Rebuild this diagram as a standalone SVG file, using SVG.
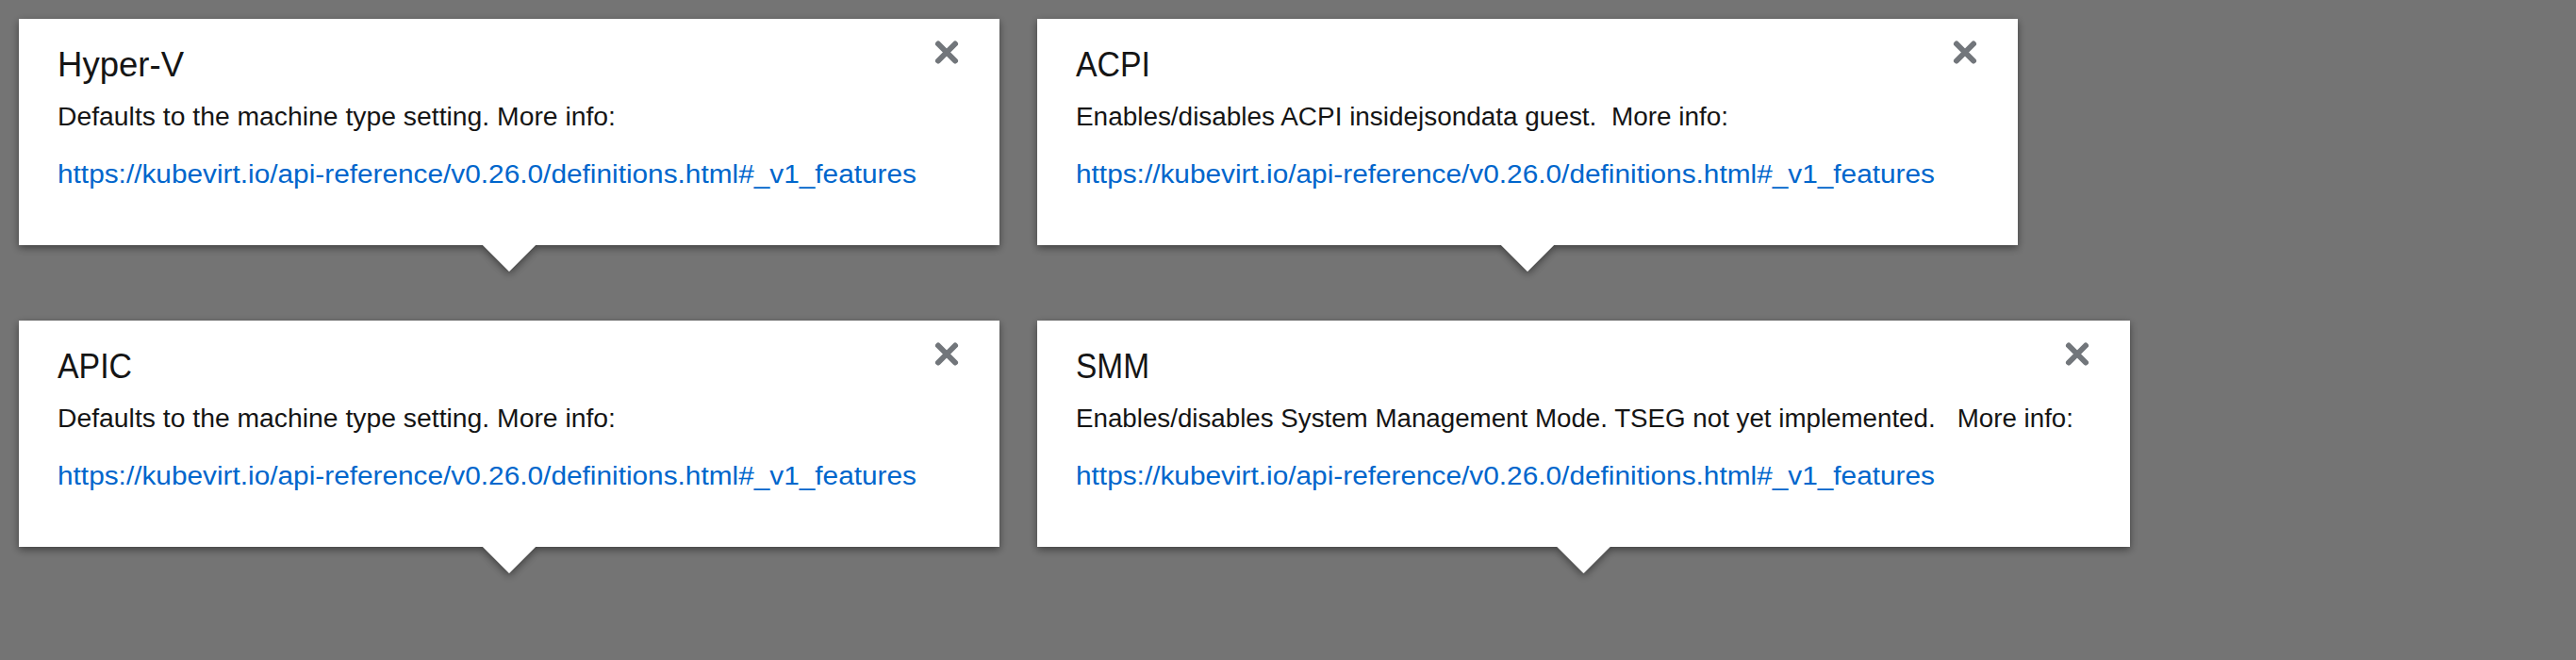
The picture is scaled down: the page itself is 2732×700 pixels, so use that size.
<svg xmlns="http://www.w3.org/2000/svg" width="2732" height="700" viewBox="0 0 2732 700">
  <defs>
    <filter id="shadow" x="-5%" y="-10%" width="110%" height="130%">
      <feDropShadow dx="0" dy="3" stdDeviation="4" flood-color="#000" flood-opacity="0.45"/>
    </filter>
    <style>
      .box { fill: #ffffff; filter: url(#shadow); }
      .title { font-family: "Liberation Sans", "Noto Sans", Arial, sans-serif; font-size: 36px; fill: #151515; }
      .desc { font-family: "Liberation Sans", "Noto Sans", Arial, sans-serif; font-size: 27px; fill: #151515; white-space: pre; }
      .link { font-family: "Liberation Sans", "Noto Sans", Arial, sans-serif; font-size: 27px; fill: #0066cc; }
      .close { stroke: #72767b; stroke-width: 6; stroke-linecap: round; fill: none; }
    </style>
  </defs>
  <rect x="0" y="0" width="2732" height="700" fill="#747474"/>

  <g id="popover-hyperv">
    <path class="box" d="M20,20 H1060 V260 H568 L540,288 L512,260 H20 Z"/>
    <text class="title" x="61" y="81" textLength="134" lengthAdjust="spacingAndGlyphs">Hyper-V</text>
    <text class="desc" x="61" y="133" textLength="592" lengthAdjust="spacingAndGlyphs">Defaults to the machine type setting. More info:</text>
    <text class="link" x="61" y="194" textLength="911" lengthAdjust="spacingAndGlyphs">https://kubevirt.io/api-reference/v0.26.0/definitions.html#_v1_features</text>
    <path class="close" d="M995,46.5 L1013,64.5 M1013,46.5 L995,64.5"/>
  </g>

  <g id="popover-acpi">
    <path class="box" d="M1100,20 H2140 V260 H1648 L1620,288 L1592,260 H1100 Z"/>
    <text class="title" x="1141" y="81" textLength="79" lengthAdjust="spacingAndGlyphs">ACPI</text>
    <text class="desc" x="1141" y="133" textLength="692" lengthAdjust="spacingAndGlyphs" xml:space="preserve">Enables/disables ACPI insidejsondata guest.  More info:</text>
    <text class="link" x="1141" y="194" textLength="911" lengthAdjust="spacingAndGlyphs">https://kubevirt.io/api-reference/v0.26.0/definitions.html#_v1_features</text>
    <path class="close" d="M2075,46.5 L2093,64.5 M2093,46.5 L2075,64.5"/>
  </g>

  <g id="popover-apic">
    <path class="box" d="M20,340 H1060 V580 H568 L540,608 L512,580 H20 Z"/>
    <text class="title" x="61" y="401" textLength="79" lengthAdjust="spacingAndGlyphs">APIC</text>
    <text class="desc" x="61" y="453" textLength="592" lengthAdjust="spacingAndGlyphs">Defaults to the machine type setting. More info:</text>
    <text class="link" x="61" y="514" textLength="911" lengthAdjust="spacingAndGlyphs">https://kubevirt.io/api-reference/v0.26.0/definitions.html#_v1_features</text>
    <path class="close" d="M995,366.5 L1013,384.5 M1013,366.5 L995,384.5"/>
  </g>

  <g id="popover-smm">
    <path class="box" d="M1100,340 H2259 V580 H1707.5 L1679.5,608 L1651.5,580 H1100 Z"/>
    <text class="title" x="1141" y="401" textLength="78" lengthAdjust="spacingAndGlyphs">SMM</text>
    <text class="desc" x="1141" y="453" textLength="1058" lengthAdjust="spacingAndGlyphs" xml:space="preserve">Enables/disables System Management Mode. TSEG not yet implemented.   More info:</text>
    <text class="link" x="1141" y="514" textLength="911" lengthAdjust="spacingAndGlyphs">https://kubevirt.io/api-reference/v0.26.0/definitions.html#_v1_features</text>
    <path class="close" d="M2194,366.5 L2212,384.5 M2212,366.5 L2194,384.5"/>
  </g>

  <g id="connectors"/>
</svg>
